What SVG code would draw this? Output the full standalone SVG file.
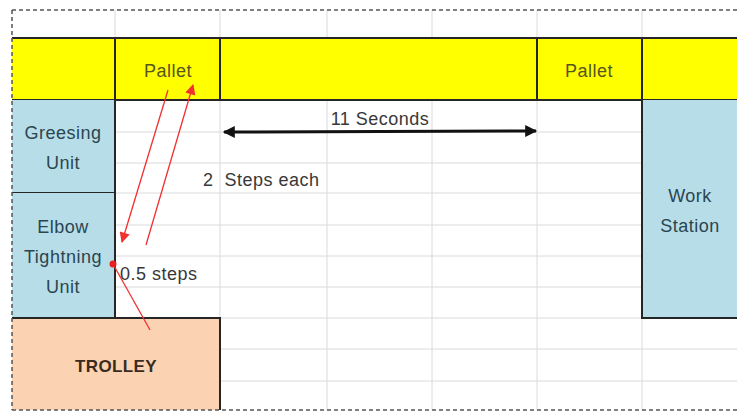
<svg xmlns="http://www.w3.org/2000/svg" width="737" height="412" viewBox="0 0 737 412">
<style>
.grid{stroke:#dadada;stroke-width:1;fill:none}
.edge{stroke:#262626;stroke-width:2;fill:none}
.t{font-family:"Liberation Sans",Arial,sans-serif;font-size:18px;letter-spacing:0.5px}
.blue{fill:#b7dde8}
.btxt{fill:#2a4550;text-anchor:middle}
.ptxt{fill:#55551f;text-anchor:middle}
.body{fill:#383838}
.red{stroke:#f23030;stroke-width:1.3;fill:none}
</style>
<defs>
<marker id="ah" viewBox="0 0 10 10" refX="9" refY="5" markerWidth="5" markerHeight="4" markerUnits="strokeWidth" orient="auto-start-reverse">
<path d="M0,0 L10,5 L0,10 z" fill="#111"/>
</marker>
<marker id="rh" viewBox="0 0 10 10" refX="9" refY="5" markerWidth="9" markerHeight="8" markerUnits="strokeWidth" orient="auto">
<path d="M0,0 L10,5 L0,10 z" fill="#f23030"/>
</marker>
</defs>
<rect x="0" y="0" width="737" height="412" fill="#ffffff"/>
<g id="grid">
<path class="grid" d="M115,10V410 M220,10V410 M327,10V410 M432,10V410 M537,10V410 M642,10V410"/>
<path class="grid" d="M12,132H737 M12,163H737 M12,193H737 M12,225H737 M12,256H737 M12,287H737 M12,318H737 M12,349H737 M12,381H737"/>
</g>
<g id="pallet-row">
<rect x="12" y="38" width="730" height="62" fill="#ffff00"/>
<path class="edge" d="M12,38H737 M12,100H737 M115,38V100 M220,38V100 M537,38V100 M642,38V100"/>
</g>
<g id="pallet1"><text class="t ptxt" x="168" y="77">Pallet</text></g>
<g id="pallet2"><text class="t ptxt" x="589" y="77">Pallet</text></g>
<g id="greesing">
<rect class="blue" x="12" y="100" width="103" height="93"/>
<path class="edge" d="M115,100V193 M12,193H115"/>
<text class="t btxt" x="63" y="139">Greesing</text>
<text class="t btxt" x="63" y="169">Unit</text>
</g>
<g id="elbow">
<rect class="blue" x="12" y="193" width="103" height="125"/>
<path class="edge" d="M115,193V318"/>
<text class="t btxt" x="63" y="233">Elbow</text>
<text class="t btxt" x="63" y="263">Tightning</text>
<text class="t btxt" x="63" y="293">Unit</text>
</g>
<g id="workstation">
<rect class="blue" x="642" y="100" width="100" height="218"/>
<path class="edge" d="M642,100V318H737"/>
<text class="t btxt" x="690" y="202">Work</text>
<text class="t btxt" x="690" y="232">Station</text>
</g>
<g id="trolley">
<rect x="12" y="318" width="208" height="92" fill="#fbd3b2"/>
<path class="edge" d="M12,318H220V410"/>
<text x="116" y="372" font-family="Liberation Sans,Arial,sans-serif" font-size="17" font-weight="bold" letter-spacing="0.4" fill="#3a2b1e" text-anchor="middle">TROLLEY</text>
</g>
<g id="border">
<path d="M12,10H737 M12,10V410 M12,410H737" stroke="#555" stroke-width="1.5" stroke-dasharray="4 3" fill="none"/>
</g>
<g id="connectors">
<line x1="224" y1="132" x2="536" y2="131" stroke="#111" stroke-width="3" marker-start="url(#ah)" marker-end="url(#ah)"/>
<line class="red" x1="168" y1="90" x2="122" y2="242" marker-end="url(#rh)"/>
<line class="red" x1="146" y1="245" x2="193" y2="85" marker-end="url(#rh)"/>
<line class="red" x1="113" y1="264" x2="150" y2="330"/>
<circle cx="113" cy="264" r="3.5" fill="#e82020"/>
</g>
<g id="labels">
<text class="t body" x="380" y="125" text-anchor="middle">11 Seconds</text>
<text class="t body" x="203" y="186" xml:space="preserve" style="white-space:pre">2  Steps each</text>
<text class="t body" x="120" y="280">0.5 steps</text>
</g>
</svg>
